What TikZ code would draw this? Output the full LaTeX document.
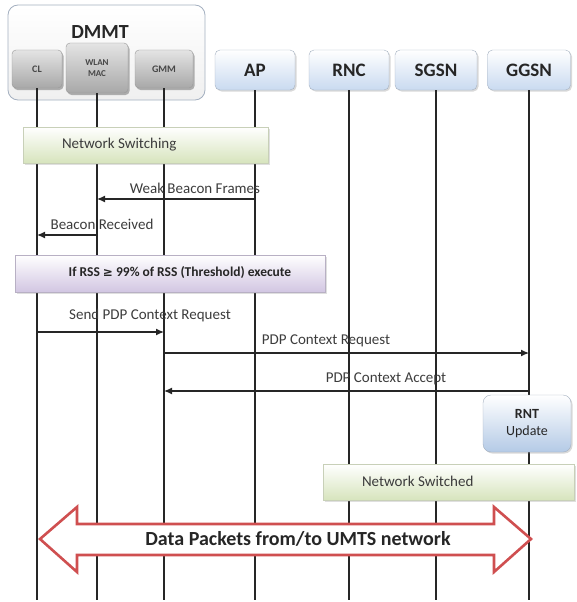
\documentclass[tikz,border=0pt]{standalone}
\usepackage{fontspec}
\setmainfont{Carlito}
\newfontfamily\symfont{DejaVu Sans}
\usetikzlibrary{arrows.meta,shadows}

\definecolor{headbot}{HTML}{C9DAF0}
\definecolor{headline}{HTML}{A4B0C0}
\definecolor{subtop}{HTML}{E4E4E4}
\definecolor{subbot}{HTML}{A8A8A8}
\definecolor{greenbot}{HTML}{D7E4BD}
\definecolor{greenline}{HTML}{C8D0B8}
\definecolor{purplebot}{HTML}{D2C6E2}
\definecolor{purpleline}{HTML}{B8B0C4}
\definecolor{rntbot}{HTML}{B4CAE6}
\definecolor{arrowred}{HTML}{CF4F50}
\definecolor{ink}{HTML}{262626}

\begin{document}
\begin{tikzpicture}[x=1pt,y=-1pt,
  every node/.style={inner sep=0pt, outer sep=0pt},
  lifehead/.style={draw=headline, rounded corners=5pt, top color=white, bottom color=headbot,
    minimum height=40pt, font=\bfseries\fontsize{19}{21}\selectfont, text=ink,
    drop shadow={opacity=0.3, shadow xshift=1.5pt, shadow yshift=-1.5pt}},
  subbox/.style={draw=gray!80, rounded corners=4pt, top color=subtop, bottom color=subbot,
    font=\bfseries\fontsize{10}{11}\selectfont, text=ink!85, align=center,
    drop shadow={opacity=0.6, shadow xshift=1.5pt, shadow yshift=-2pt}},
  groupbox/.style={draw=headline, rounded corners=10pt, top color=white, bottom color=gray!12, line width=0.8pt},
  greenbar/.style={draw=greenline, top color=white, bottom color=greenbot,
    drop shadow={opacity=0.25, shadow xshift=1.5pt, shadow yshift=-1.5pt}},
  purplebar/.style={draw=purpleline, top color=white, bottom color=purplebot,
    drop shadow={opacity=0.25, shadow xshift=1.5pt, shadow yshift=-1.5pt}},
  msgtext/.style={font=\fontsize{15}{17}\selectfont, text=ink!90},
  lifeline/.style={line width=1.2pt, draw=ink},
  msg/.style={line width=1.2pt, draw=ink, -{Latex[length=8pt,width=7pt]}},
]
\useasboundingbox (0,0) rectangle (576,602);

% DMMT group with its three entities
\node[groupbox, minimum width=197pt, minimum height=95pt] (dmmt) at (106.5,52.5) {};
\node[font=\bfseries\fontsize{20}{22}\selectfont, text=ink] (dmmtlabel) at (100,32) {DMMT};
\node[subbox, minimum width=50pt, minimum height=38pt] (cl) at (37,69) {CL};
\node[subbox, minimum width=62pt, minimum height=50pt, font=\bfseries\fontsize{9}{10.5}\selectfont] (wlan) at (97,68) {WLAN\\MAC};
\node[subbox, minimum width=58pt, minimum height=38pt] (gmm) at (164,69) {GMM};

% network entities
\node[lifehead, minimum width=80pt] (ap) at (255,70) {AP};
\node[lifehead, minimum width=80pt] (rnc) at (349,70) {RNC};
\node[lifehead, minimum width=82pt] (sgsn) at (436,70) {SGSN};
\node[lifehead, minimum width=83pt] (ggsn) at (529,70) {GGSN};

% lifelines
\foreach \n in {cl,wlan,gmm,ap,rnc,sgsn,ggsn}
  \draw[lifeline] (\n.south) -- (\n.south |- 0,600);

% network switching phase
\node[greenbar, minimum width=245pt, minimum height=36pt] (switching) at (145.5,145) {};
\node[msgtext, anchor=west] (switchinglabel) at (62,145) {Network Switching};

% beacon handling
\draw[msg] (ap |- 0,199) -- (wlan |- 0,199);
\node[msgtext, anchor=east] (weaklabel) at (260,188) {Weak Beacon Frames};
\draw[msg] (wlan |- 0,235) -- (cl |- 0,235);
\node[msgtext] (beaconlabel) at (102,224) {Beacon Received};

% threshold condition
\node[purplebar, minimum width=310pt, minimum height=37pt] (cond) at (170,273.5) {};
\node[font=\bfseries\fontsize{13.5}{15}\selectfont, text=ink] (condlabel) at (180,273) {If RSS {\symfont\fontsize{12}{14}\selectfont ≥} 99\% of RSS (Threshold) execute};

% PDP context exchange
\draw[msg] (cl |- 0,332) -- (gmm |- 0,332);
\node[msgtext] (sendlabel) at (150,315) {Send PDP Context Request};
\draw[msg] (gmm |- 0,353) -- (ggsn |- 0,353);
\node[msgtext] (reqlabel) at (326,341) {PDP Context Request};
\draw[msg] (ggsn |- 0,391) -- (gmm |- 0,391);
\node[msgtext] (acceptlabel) at (386,379) {PDP Context Accept};

% RNT update at the GGSN
\node[draw=headline, rounded corners=8pt, top color=white, bottom color=rntbot,
  minimum width=88pt, minimum height=57pt, align=center, text=ink,
  font=\fontsize{14}{17}\selectfont,
  drop shadow={opacity=0.3, shadow xshift=1.5pt, shadow yshift=-1.5pt}] (rnt) at (527,423.5) {\textbf{RNT}\\Update};

% network switched phase
\node[greenbar, minimum width=251pt, minimum height=36pt] (switched) at (448.5,482) {};
\node[msgtext, anchor=west] (switchedlabel) at (362,481) {Network Switched};

% data transfer over UMTS
\draw[line width=2.6pt, draw=arrowred, fill=white, line join=miter]
  (40,539) -- (77,507) -- (77,524) -- (494,524) -- (494,507) -- (531,539)
  -- (494,572) -- (494,555) -- (77,555) -- (77,572) -- cycle;
\node[font=\bfseries\fontsize{20}{22}\selectfont, text=ink] (datalabel) at (298,539) {Data Packets from/to UMTS network};
\end{tikzpicture}
\end{document}
